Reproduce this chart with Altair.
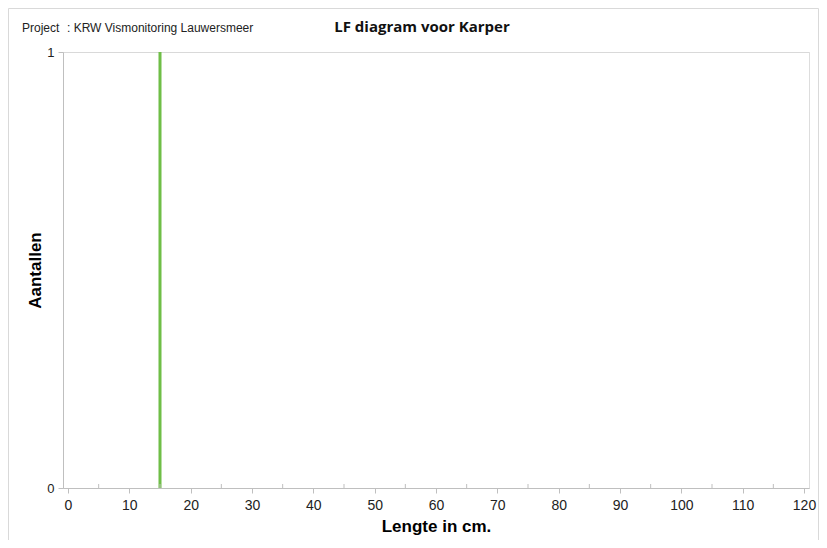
import altair as alt
import pandas as pd

# Data
lengths = [15]
counts = [1]
minor_ticks = [5, 15, 25, 35, 45, 55, 65, 75, 85, 95, 105, 115]
x_ticks = [0, 10, 20, 30, 40, 50, 60, 70, 80, 90, 100, 110, 120]
y_ticks = [0, 1]

title_text = "LF diagram voor Karper"
project_label = "Project"
project_value = ": KRW Vismonitoring Lauwersmeer"

W, H = 746, 436
FONT = "Liberation Sans"

df = pd.DataFrame({"lengte": lengths, "aantal": counts})
df_minor = pd.DataFrame({"m": minor_ticks})

x_scale = alt.Scale(domain=[0, 120], nice=False, zero=True)
y_scale = alt.Scale(domain=[0, 1], nice=False)

bars = alt.Chart(df).mark_bar(size=3, color="#6FBE47").encode(
    x=alt.X("lengte:Q", scale=x_scale,
            axis=alt.Axis(values=x_ticks, title="Lengte in cm.", grid=False,
                          format="d",
                          domainColor="#bfbfbf", tickColor="#bfbfbf", tickSize=5,
                          labelFont=FONT, labelFontSize=14, labelColor="#222",
                          labelPadding=5,
                          titleFont=FONT, titleFontSize=17, titleFontWeight="bold",
                          titleColor="#000", titlePadding=6)),
    y=alt.Y("aantal:Q", scale=y_scale,
            axis=alt.Axis(values=y_ticks, title="Aantallen", grid=True,
                          format="d",
                          gridColor="#d9d9d9", domainColor="#bfbfbf",
                          tickColor="#bfbfbf", tickSize=5,
                          labelFont=FONT, labelFontSize=13, labelColor="#222",
                          labelPadding=4,
                          titleFont=FONT, titleFontSize=17, titleFontWeight="bold",
                          titleColor="#000", titlePadding=2)),
)

minor = alt.Chart(df_minor).mark_rule(color="#bfbfbf", strokeWidth=1).encode(
    x=alt.X("m:Q", scale=x_scale),
    y=alt.value(H - 4),
    y2=alt.value(H),
)

proj1 = alt.Chart(pd.DataFrame({"t": [project_label]})).mark_text(
    font=FONT, fontSize=12, color="#222", align="left", baseline="middle"
).encode(text="t:N", x=alt.value(-41), y=alt.value(-24))

proj2 = alt.Chart(pd.DataFrame({"t": [project_value]})).mark_text(
    font=FONT, fontSize=12, color="#222", align="left", baseline="middle"
).encode(text="t:N", x=alt.value(4), y=alt.value(-24))

ttl = alt.Chart(pd.DataFrame({"t": [title_text]})).mark_text(
    font="Open Sans", fontSize=15, fontWeight="bold", color="#111",
    align="center", baseline="middle"
).encode(text="t:N", x=alt.value(359), y=alt.value(-25))

border = alt.Chart(pd.DataFrame({"a": [0]})).mark_rect(
    fill=None, stroke="#d9d9d9", strokeWidth=1
).encode(x=alt.value(-54.5), x2=alt.value(W + 9.5),
         y=alt.value(-43.5), y2=alt.value(H + 100))

chart = alt.layer(border, bars, minor, proj1, proj2, ttl).properties(
    width=W, height=H,
    padding={"left": 55, "top": 44, "right": 10, "bottom": 52},
    autosize=alt.AutoSizeParams(type="none"),
).configure_view(stroke=None).configure(background="white")

chart.save("out.html", embed_options={"renderer": "svg", "actions": False})
